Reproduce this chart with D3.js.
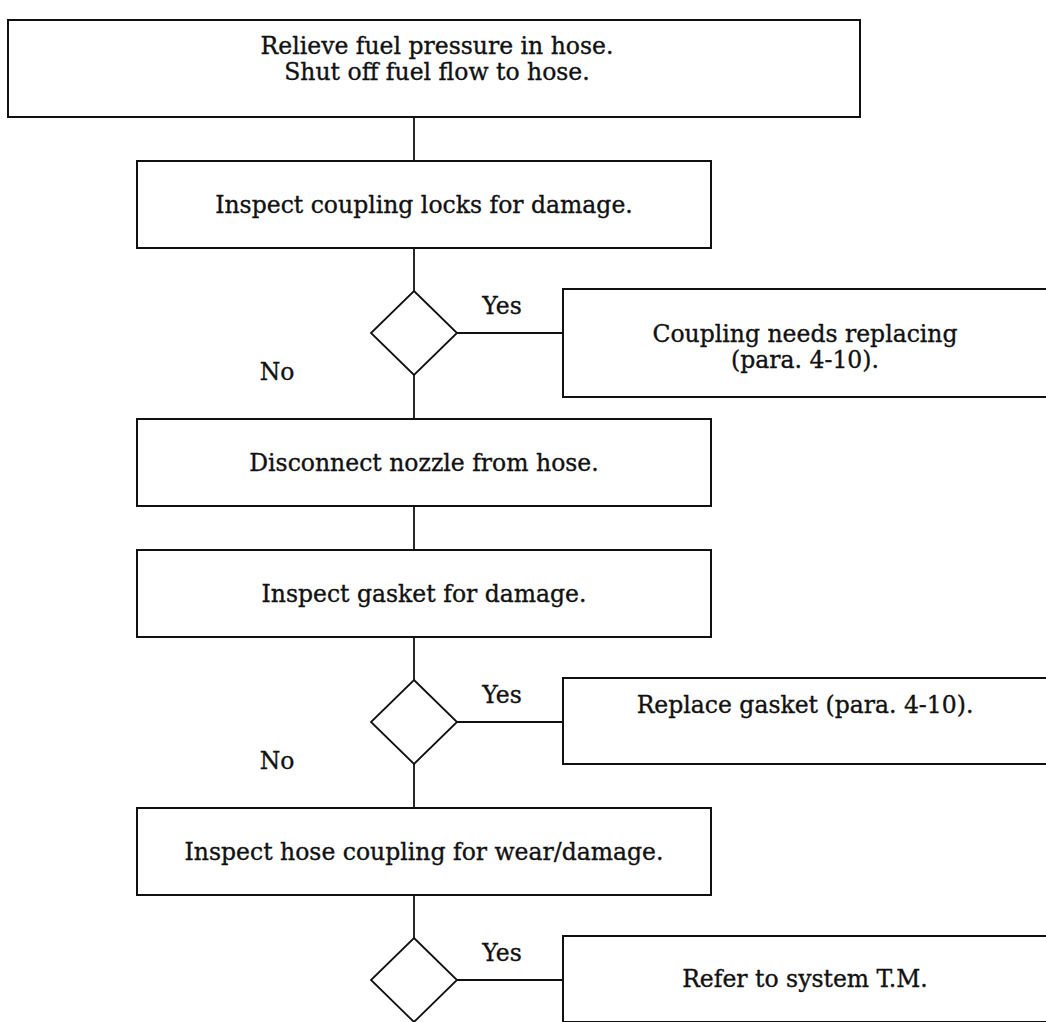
<!DOCTYPE html>
<html>
<head>
<meta charset="utf-8">
<script src="https://cdn.jsdelivr.net/npm/d3@7"></script>
<style>
  body { margin: 0; background: #fff; }
  text { font-family: "DejaVu Serif", serif; fill: #111; stroke: #111; stroke-width: 0.35px; }
</style>
</head>
<body>
<svg id="chart"></svg>
<script>
const width = 1046;
const height = 1022;

// box texts down the main column
const steps = [
  ["Relieve fuel pressure in hose.", "Shut off fuel flow to hose."],
  ["Inspect coupling locks for damage."],
  ["Disconnect nozzle from hose."],
  ["Inspect gasket for damage."],
  ["Inspect hose coupling for wear/damage."]
];
// what happens on a "Yes" at each decision
const outcomes = [
  ["Coupling needs replacing", "(para. 4-10)."],
  ["Replace gasket (para. 4-10)."],
  ["Refer to system T.M."]
];
const yesLabel = "Yes";
const noLabel = "No";
// order of the flow: s = step, d = decision
const flow = ["s0", "s1", "d0", "s2", "s3", "d1", "s4", "d2"];
const noShown = [true, true, false];

// layout
const topY = 20;
const lineX = 414;
const boxX0 = 137, boxX1 = 711;
const firstBox = {x0: 8, x1: 860};
const boxH = 87, twoLineH = 97;
const gapToDiamond = 43, gapToBox = 44;
const dHalfW = 43, dHalfH = 42;
const outX0 = 563, outX1 = 1050, outCx = 805;
const fontSize = 23.5, lineGap = 26;
const stepTextShift = [-10, 0, 0, 0, 0];
const outTextShift = [4, -16, 0];

const svg = d3.select("#chart").attr("width", width).attr("height", height);
const g = svg.append("g");

// walk down the flow and place every node
let y = topY;
const nodes = [];
flow.forEach((k, i) => {
  const idx = +k.slice(1);
  if (k[0] === "s") {
    const h = steps[idx].length > 1 ? twoLineH : boxH;
    const xs = idx === 0 ? firstBox : {x0: boxX0, x1: boxX1};
    nodes.push({type: "s", idx, x0: xs.x0, x1: xs.x1, y0: y, y1: y + h});
    y += h;
  } else {
    nodes.push({type: "d", idx, cy: y + dHalfH, y0: y, y1: y + 2 * dHalfH});
    y += 2 * dHalfH;
  }
  const next = flow[i + 1];
  if (next) y += next[0] === "d" ? gapToDiamond : gapToBox;
});

function writeLines(sel, lines, cx, cy) {
  const t = sel.append("text")
    .attr("text-anchor", "middle")
    .attr("font-size", fontSize);
  lines.forEach((l, j) => {
    t.append("tspan")
      .attr("x", cx)
      .attr("y", cy + (j - (lines.length - 1) / 2) * lineGap)
      .attr("dy", "0.36em")
      .text(l);
  });
}

// connectors along the main column
for (let i = 0; i < nodes.length - 1; i++) {
  g.append("line")
    .attr("x1", lineX).attr("x2", lineX)
    .attr("y1", nodes[i].y1).attr("y2", nodes[i + 1].y0)
    .attr("stroke", "#111").attr("stroke-width", 1.8);
}

nodes.forEach(n => {
  if (n.type === "s") {
    g.append("rect")
      .attr("x", n.x0).attr("y", n.y0)
      .attr("width", n.x1 - n.x0).attr("height", n.y1 - n.y0)
      .attr("fill", "none").attr("stroke", "#111").attr("stroke-width", 2);
    writeLines(g, steps[n.idx], (n.x0 + n.x1) / 2 + (n.idx === 0 ? 3 : 0),
      (n.y0 + n.y1) / 2 + stepTextShift[n.idx]);
  } else {
    const pts = [[lineX, n.y0], [lineX + dHalfW, n.cy], [lineX, n.y1], [lineX - dHalfW, n.cy]];
    g.append("path")
      .attr("d", d3.line()(pts) + "Z")
      .attr("fill", "none").attr("stroke", "#111").attr("stroke-width", 1.8);

    const oLines = outcomes[n.idx];
    const oy0 = n.y0 - 2;
    const oh = oLines.length > 1 ? 108 : 86;
    g.append("line")
      .attr("x1", lineX + dHalfW).attr("x2", outX0)
      .attr("y1", n.cy).attr("y2", n.cy)
      .attr("stroke", "#111").attr("stroke-width", 1.8);
    g.append("rect")
      .attr("x", outX0).attr("y", oy0)
      .attr("width", outX1 - outX0).attr("height", oh)
      .attr("fill", "none").attr("stroke", "#111").attr("stroke-width", 2);
    writeLines(g, oLines, outCx, oy0 + oh / 2 + outTextShift[n.idx]);

    g.append("text")
      .attr("x", 502).attr("y", n.cy - 27)
      .attr("dy", "0.36em")
      .attr("text-anchor", "middle")
      .attr("font-size", fontSize)
      .text(yesLabel);
    if (noShown[n.idx]) {
      g.append("text")
        .attr("x", 277).attr("y", n.cy + 39)
        .attr("dy", "0.36em")
        .attr("text-anchor", "middle")
        .attr("font-size", fontSize)
        .text(noLabel);
    }
  }
});
</script>
</body>
</html>
